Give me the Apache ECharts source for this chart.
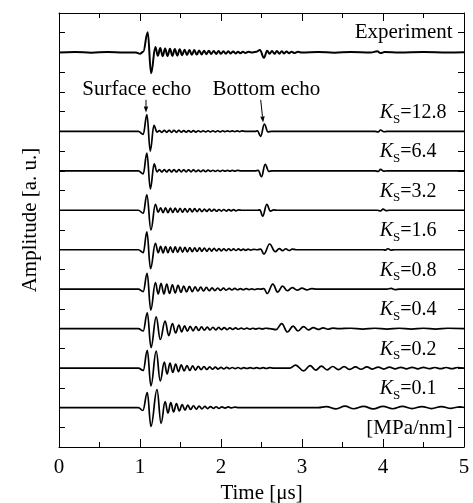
<!DOCTYPE html>
<html><head><meta charset="utf-8">
<script src="https://cdn.jsdelivr.net/npm/echarts@6/dist/echarts.min.js"></script>
<style>html,body{margin:0;padding:0;background:#fff}#c{width:473px;height:503px}</style>
</head><body><div id="c"></div>
<script>
// ---- data (time in µs, relative amplitude in a.u.) ----
const xTicks = [0, 1, 2, 3, 4, 5];
const traceNames = ['Experiment', '12.8', '6.4', '3.2', '1.6', '0.8', '0.4', '0.2', '0.1'];
const traceOffsets = [20, 16, 14, 12, 10, 8, 6, 4, 2];

const waveExp = [[0,0],[0.2,0.02],[0.4,-0.01],[0.6,0.02],[0.8,0],[0.95,0],[1.0,-0.07],[1.04,0.04],[1.095,1.03],[1.137,-1.06],[1.19,0.28],
[1.22,-0.17],[1.25,0.22],[1.28,-0.19],[1.31,0.2],[1.34,-0.18],[1.37,0.19],[1.40,-0.17],[1.43,0.17],[1.46,-0.16],[1.49,0.16],[1.52,-0.14],[1.55,0.14],[1.58,-0.13],[1.61,0.13],[1.64,-0.12],[1.67,0.12],[1.70,-0.11],[1.73,0.1],[1.76,-0.1],[1.79,0.09],[1.82,-0.09],[1.85,0.09],[1.88,-0.08],[1.91,0.08],[1.94,-0.08],[1.97,0.07],[2.00,-0.07],[2.03,0.06],[2.06,-0.06],[2.09,0.06],[2.12,-0.05],[2.15,0.05],[2.18,-0.05],[2.21,0.04],[2.24,-0.04],[2.27,0.04],[2.30,-0.03],[2.34,0.03],[2.39,0],[2.44,0.04],[2.48,0.13],[2.53,-0.27],[2.57,0.09],[2.60,-0.07],[2.63,0.08],[2.66,-0.07],[2.69,0.07],[2.72,-0.06],[2.75,0.06],[2.78,-0.05],[2.81,0.05],[2.84,-0.04],[2.87,0.04],[2.91,-0.03],[2.95,0.03],[3.0,0],[3.2,0.02],[3.4,-0.01],[3.6,0.02],[3.85,0],[3.93,0.06],[3.97,-0.03],[4.02,0.02],[4.2,0],[4.5,0.02],[4.8,0],[5,0.01]];

const wave128 = [[0,0],[0.98,0],[1.04,-0.15],[1.085,0.85],[1.127,-1.0],[1.172,0.3],[1.21,-0.03],[1.24,0.04],[1.27,-0.05],[1.30,0.05],[1.33,-0.05],[1.36,0.05],[1.39,-0.05],[1.42,0.05],[1.45,-0.05],[1.48,0.05],[1.51,-0.04],[1.54,0.04],[1.57,-0.04],[1.60,0.04],[1.63,-0.04],[1.66,0.04],[1.69,-0.04],[1.72,0.03],[1.75,-0.03],[1.78,0.03],[1.81,-0.03],[1.84,0.03],[1.87,-0.03],[1.90,0.03],[1.93,-0.03],[1.96,0.03],[1.99,-0.03],[2.02,0.03],[2.05,-0.02],[2.08,0.02],[2.11,-0.02],[2.14,0.02],[2.17,-0.02],[2.20,0.02],[2.23,-0.02],[2.26,0.02],[2.30,0],[2.42,0],[2.45,0.02],[2.49,-0.25],[2.535,0.37],[2.58,-0.03],[2.62,0],[3.9,0],[3.94,-0.03],[3.97,0.07],[4.01,-0.02],[4.05,0],[5,0]];

const wave64 = [[0,0],[0.98,0],[1.04,-0.15],[1.085,0.9],[1.128,-0.92],[1.175,0.35],[1.21,-0.05],[1.24,0.06],[1.27,-0.06],[1.30,0.06],[1.33,-0.06],[1.36,0.06],[1.39,-0.06],[1.42,0.06],[1.45,-0.06],[1.48,0.06],[1.51,-0.05],[1.54,0.05],[1.57,-0.05],[1.60,0.05],[1.63,-0.05],[1.66,0.05],[1.69,-0.04],[1.72,0.04],[1.75,-0.04],[1.78,0.04],[1.81,-0.04],[1.84,0.04],[1.87,-0.03],[1.90,0.03],[1.93,-0.03],[1.96,0.03],[1.99,-0.03],[2.02,0.03],[2.05,-0.02],[2.08,0.02],[2.11,-0.02],[2.14,0.02],[2.17,-0.02],[2.20,0.02],[2.25,0],[2.42,0],[2.46,0.02],[2.50,-0.3],[2.545,0.33],[2.59,-0.03],[2.63,0],[3.9,0],[3.94,-0.03],[3.97,0.07],[4.01,-0.02],[4.05,0],[5,0]];

const wave32 = [[0,0],[0.98,0],[1.04,-0.15],[1.085,0.78],[1.135,-1.0],[1.19,0.3],[1.225,-0.1],[1.255,0.12],[1.285,-0.12],[1.315,0.12],[1.345,-0.12],[1.375,0.11],[1.405,-0.11],[1.435,0.11],[1.465,-0.1],[1.495,0.1],[1.525,-0.1],[1.555,0.09],[1.585,-0.09],[1.615,0.09],[1.645,-0.08],[1.675,0.08],[1.705,-0.07],[1.735,0.07],[1.765,-0.07],[1.795,0.06],[1.825,-0.06],[1.855,0.06],[1.885,-0.05],[1.915,0.05],[1.945,-0.05],[1.975,0.04],[2.005,-0.04],[2.035,0.04],[2.065,-0.04],[2.095,0.03],[2.125,-0.03],[2.155,0.03],[2.185,-0.03],[2.215,0.02],[2.26,0],[2.44,0],[2.48,0.02],[2.515,-0.3],[2.565,0.3],[2.61,-0.04],[2.65,0.02],[2.7,0],[3.93,0],[3.97,-0.03],[4.0,0.06],[4.04,-0.02],[4.08,0],[5,0]];

const wave16 = [[0,0],[0.98,0],[1.04,-0.15],[1.085,0.9],[1.13,-0.96],[1.19,0.32],[1.225,-0.15],[1.255,0.17],[1.285,-0.16],[1.315,0.16],[1.345,-0.15],[1.375,0.15],[1.405,-0.14],[1.435,0.14],[1.465,-0.13],[1.495,0.13],[1.525,-0.12],[1.555,0.12],[1.585,-0.11],[1.615,0.11],[1.645,-0.1],[1.675,0.1],[1.705,-0.09],[1.735,0.09],[1.765,-0.08],[1.795,0.08],[1.825,-0.08],[1.855,0.07],[1.885,-0.07],[1.915,0.07],[1.945,-0.06],[1.975,0.06],[2.005,-0.06],[2.035,0.05],[2.065,-0.05],[2.095,0.05],[2.125,-0.04],[2.155,0.04],[2.185,-0.04],[2.215,0.04],[2.245,-0.03],[2.275,0.03],[2.305,-0.03],[2.335,0.03],[2.365,-0.02],[2.40,0.02],[2.45,0],[2.49,0.03],[2.53,-0.22],[2.60,0.29],[2.67,-0.1],[2.72,0.06],[2.76,-0.05],[2.80,0.05],[2.84,-0.04],[2.88,0.03],[2.93,0],[4.0,0],[4.03,-0.02],[4.06,0.05],[4.1,-0.02],[4.14,0],[5,0]];

const wave08 = [[0,0],[0.98,0],[1.04,-0.12],[1.088,0.8],[1.133,-1.06],[1.19,0.33],[1.225,-0.24],[1.26,0.3],[1.295,-0.24],[1.33,0.26],[1.365,-0.22],[1.40,0.22],[1.435,-0.19],[1.47,0.19],[1.505,-0.16],[1.54,0.16],[1.575,-0.14],[1.61,0.14],[1.645,-0.12],[1.68,0.12],[1.715,-0.1],[1.75,0.1],[1.785,-0.09],[1.82,0.09],[1.855,-0.08],[1.89,0.07],[1.925,-0.07],[1.96,0.06],[1.995,-0.06],[2.03,0.05],[2.065,-0.05],[2.10,0.04],[2.135,-0.04],[2.17,0.04],[2.205,-0.03],[2.24,0.03],[2.275,-0.03],[2.31,0.03],[2.345,-0.02],[2.38,0.02],[2.415,-0.02],[2.45,0.02],[2.49,0],[2.53,0.03],[2.57,-0.22],[2.64,0.26],[2.70,-0.15],[2.76,0.15],[2.82,-0.08],[2.88,0.08],[2.94,-0.05],[3.0,0.05],[3.06,-0.04],[3.12,0.03],[3.18,0],[4.05,0],[4.1,0.04],[4.15,-0.02],[4.2,0],[5,0]];

const wave04 = [[0,0],[0.98,0],[1.04,-0.12],[1.09,0.8],[1.136,-0.96],[1.2,0.6],[1.25,-0.55],[1.31,0.38],[1.355,-0.35],[1.40,0.25],[1.44,-0.22],[1.48,0.18],[1.515,-0.16],[1.55,0.14],[1.585,-0.13],[1.62,0.12],[1.655,-0.11],[1.69,0.1],[1.725,-0.09],[1.76,0.09],[1.795,-0.08],[1.83,0.08],[1.865,-0.07],[1.90,0.07],[1.935,-0.06],[1.97,0.06],[2.005,-0.05],[2.04,0.05],[2.075,-0.05],[2.11,0.04],[2.145,-0.04],[2.18,0.04],[2.215,-0.03],[2.25,0.03],[2.285,-0.03],[2.32,0.03],[2.355,-0.03],[2.39,0.02],[2.43,-0.02],[2.47,0.02],[2.51,-0.02],[2.55,0.02],[2.6,0],[2.68,-0.05],[2.75,0.25],[2.82,-0.17],[2.89,0.13],[2.95,-0.12],[3.02,0.1],[3.08,-0.06],[3.14,0.05],[3.2,-0.04],[3.26,0.04],[3.32,-0.03],[3.38,0.03],[3.45,0],[3.6,0.02],[3.75,-0.02],[3.9,0.02],[4.05,-0.02],[4.2,0.02],[4.35,-0.02],[4.5,0.02],[4.65,-0.02],[4.8,0.02],[5,0]];

const wave02 = [[0,0],[0.98,0],[1.04,-0.12],[1.09,0.9],[1.135,-0.9],[1.2,0.86],[1.25,-0.65],[1.3,0.3],[1.335,-0.3],[1.37,0.25],[1.405,-0.22],[1.44,0.2],[1.475,-0.18],[1.51,0.16],[1.545,-0.14],[1.58,0.13],[1.615,-0.12],[1.65,0.11],[1.685,-0.1],[1.72,0.09],[1.755,-0.08],[1.79,0.08],[1.825,-0.07],[1.86,0.06],[1.895,-0.06],[1.93,0.05],[1.965,-0.05],[2.0,0.04],[2.035,-0.04],[2.07,0.04],[2.105,-0.03],[2.14,0.03],[2.175,-0.03],[2.21,0.03],[2.245,-0.03],[2.28,0.02],[2.32,-0.02],[2.36,0.02],[2.40,-0.02],[2.44,0.02],[2.48,-0.02],[2.52,0.02],[2.56,-0.02],[2.60,0.02],[2.65,0],[2.85,0],[2.92,0.15],[3.02,-0.14],[3.1,0.12],[3.17,-0.1],[3.24,0.1],[3.31,-0.09],[3.38,0.08],[3.45,-0.08],[3.52,0.07],[3.59,-0.07],[3.66,0.06],[3.73,-0.06],[3.8,0.06],[3.87,-0.05],[3.94,0.05],[4.01,-0.05],[4.08,0.05],[4.15,-0.04],[4.22,0.04],[4.29,-0.04],[4.36,0.04],[4.43,-0.04],[4.5,0.04],[4.57,-0.03],[4.64,0.03],[4.71,-0.03],[4.78,0.03],[4.85,-0.03],[4.92,0.03],[5,0]];

const wave01 = [[0,0],[0.98,0],[1.035,-0.15],[1.09,0.76],[1.135,-0.96],[1.21,0.91],[1.26,-0.8],[1.31,0.3],[1.345,-0.28],[1.38,0.25],[1.415,-0.22],[1.45,0.2],[1.485,-0.17],[1.52,0.15],[1.555,-0.13],[1.59,0.12],[1.625,-0.1],[1.66,0.09],[1.695,-0.08],[1.73,0.07],[1.765,-0.07],[1.80,0.06],[1.835,-0.05],[1.87,0.05],[1.905,-0.04],[1.94,0.04],[1.975,-0.04],[2.01,0.03],[2.05,-0.03],[2.09,0.03],[2.13,-0.02],[2.17,0.02],[2.22,0],[3.2,0],[3.3,0.05],[3.42,-0.07],[3.53,0.07],[3.64,-0.06],[3.76,0.06],[3.88,-0.07],[4.0,0.06],[4.12,-0.06],[4.24,0.06],[4.36,-0.05],[4.48,0.05],[4.6,-0.05],[4.72,0.05],[4.84,-0.04],[4.95,0.04],[5,0]];

const waves = [waveExp, wave128, wave64, wave32, wave16, wave08, wave04, wave02, wave01];

// ---- chart ----
const FONT = '"Liberation Serif", "Times New Roman", serif';
const chart = echarts.init(document.getElementById('c'), null, {renderer: 'canvas'});

const series = waves.map((w, i) => ({
  type: 'line',
  name: traceNames[i],
  xAxisIndex: 0, yAxisIndex: 0,
  data: w.map(p => [p[0], p[1] + traceOffsets[i]]),
  showSymbol: false,
  smooth: 0.4,
  smoothMonotone: 'x',
  lineStyle: {color: '#000', width: i === 0 ? 2 : 1.7},
  animation: false,
  silent: true
}));

const axisLineStyle = {onZero: false, lineStyle: {color: '#000', width: 1}};
chart.setOption({
  animation: false,
  grid: {left: 59, right: 9, top: 13, bottom: 56, containLabel: false, outerBoundsMode: 'none'},
  xAxis: [
    {type: 'value', min: 0, max: 5, interval: 1, position: 'bottom',
     axisLine: axisLineStyle,
     axisTick: {inside: true, length: 8, lineStyle: {color: '#000'}},
     minorTick: {show: true, splitNumber: 2, length: 5, lineStyle: {color: '#000'}},
     axisLabel: {color: '#000', fontFamily: FONT, fontSize: 21, margin: 10,
                 formatter: v => xTicks.indexOf(v) >= 0 ? String(v) : ''},
     splitLine: {show: false},
     name: 'Time [μs]', nameLocation: 'middle', nameGap: 35,
     nameTextStyle: {color: '#000', fontFamily: FONT, fontSize: 21}},
    {type: 'value', min: 0, max: 5, interval: 1, position: 'top',
     axisLine: axisLineStyle,
     axisTick: {inside: true, length: 8, lineStyle: {color: '#000'}},
     minorTick: {show: true, splitNumber: 2, length: 5, lineStyle: {color: '#000'}},
     axisLabel: {show: false}, splitLine: {show: false}}
  ],
  yAxis: [
    {type: 'value', min: 0, max: 22, interval: 1, position: 'left',
     axisLine: axisLineStyle,
     axisTick: {inside: true, length: 6, lineStyle: {color: '#000'}},
     axisLabel: {show: false}, splitLine: {show: false}},
    {type: 'value', min: 0, max: 22, interval: 1, position: 'right',
     axisLine: axisLineStyle,
     axisTick: {inside: true, length: 6, lineStyle: {color: '#000'}},
     axisLabel: {show: false}, splitLine: {show: false}}
  ],
  series: series
});

function px(t, v) { return chart.convertToPixel({xAxisIndex: 0, yAxisIndex: 0}, [t, v]); }

const graphics = [];
const txtBase = {fill: '#000', fontFamily: FONT, fontSize: 21};

// y axis title
graphics.push({type: 'text', x: 30, y: 220, rotation: Math.PI / 2,
  style: Object.assign({}, txtBase, {text: 'Amplitude [a. u.]', fontSize: 21, align: 'center', verticalAlign: 'middle'})});

// Experiment label
let p = px(4.86, 21);
graphics.push({type: 'text', x: p[0], y: p[1],
  style: Object.assign({}, txtBase, {text: 'Experiment', align: 'right', verticalAlign: 'middle'})});

// K_S labels
for (let i = 1; i < traceNames.length; i++) {
  const q = px(3.96, traceOffsets[i] + 0.95);
  graphics.push({type: 'text', x: q[0], y: q[1],
    style: {text: '{k|K}{s|S}{n|=' + traceNames[i] + '}', align: 'left', verticalAlign: 'middle',
      rich: {
        k: {fontFamily: FONT, fontSize: 20, fontStyle: 'italic', fill: '#000', lineHeight: 26, verticalAlign: 'middle'},
        s: {fontFamily: FONT, fontSize: 13, fill: '#000', lineHeight: 26, verticalAlign: 'bottom'},
        n: {fontFamily: FONT, fontSize: 20, fill: '#000', lineHeight: 26, verticalAlign: 'middle'}
      }}});
}

// unit label
p = px(4.86, 0.96);
graphics.push({type: 'text', x: p[0], y: p[1],
  style: Object.assign({}, txtBase, {text: '[MPa/nm]', align: 'right', verticalAlign: 'middle'})});

// echo labels
p = px(0.96, 18.14);
graphics.push({type: 'text', x: p[0], y: p[1],
  style: Object.assign({}, txtBase, {text: 'Surface echo', align: 'center', verticalAlign: 'middle'})});
p = px(2.56, 18.14);
graphics.push({type: 'text', x: p[0], y: p[1],
  style: Object.assign({}, txtBase, {text: 'Bottom echo', align: 'center', verticalAlign: 'middle'})});

// arrows
function arrow(t1, v1, t2, v2) {
  const a = px(t1, v1), b = px(t2, v2);
  const dx = b[0] - a[0], dy = b[1] - a[1];
  const len = Math.sqrt(dx * dx + dy * dy);
  const ux = dx / len, uy = dy / len;
  const hl = 6, hw = 2.2;
  const bx = b[0] - ux * hl, by = b[1] - uy * hl;
  graphics.push({type: 'line', shape: {x1: a[0], y1: a[1], x2: bx, y2: by},
    style: {stroke: '#000', lineWidth: 1}});
  graphics.push({type: 'polygon', shape: {points: [[b[0], b[1]], [bx - uy * hw, by + ux * hw], [bx + uy * hw, by - ux * hw]]},
    style: {fill: '#000'}});
}
arrow(1.074, 17.6, 1.074, 16.95);
arrow(2.49, 17.6, 2.52, 16.45);

chart.setOption({graphic: graphics});
</script>
</body></html>
